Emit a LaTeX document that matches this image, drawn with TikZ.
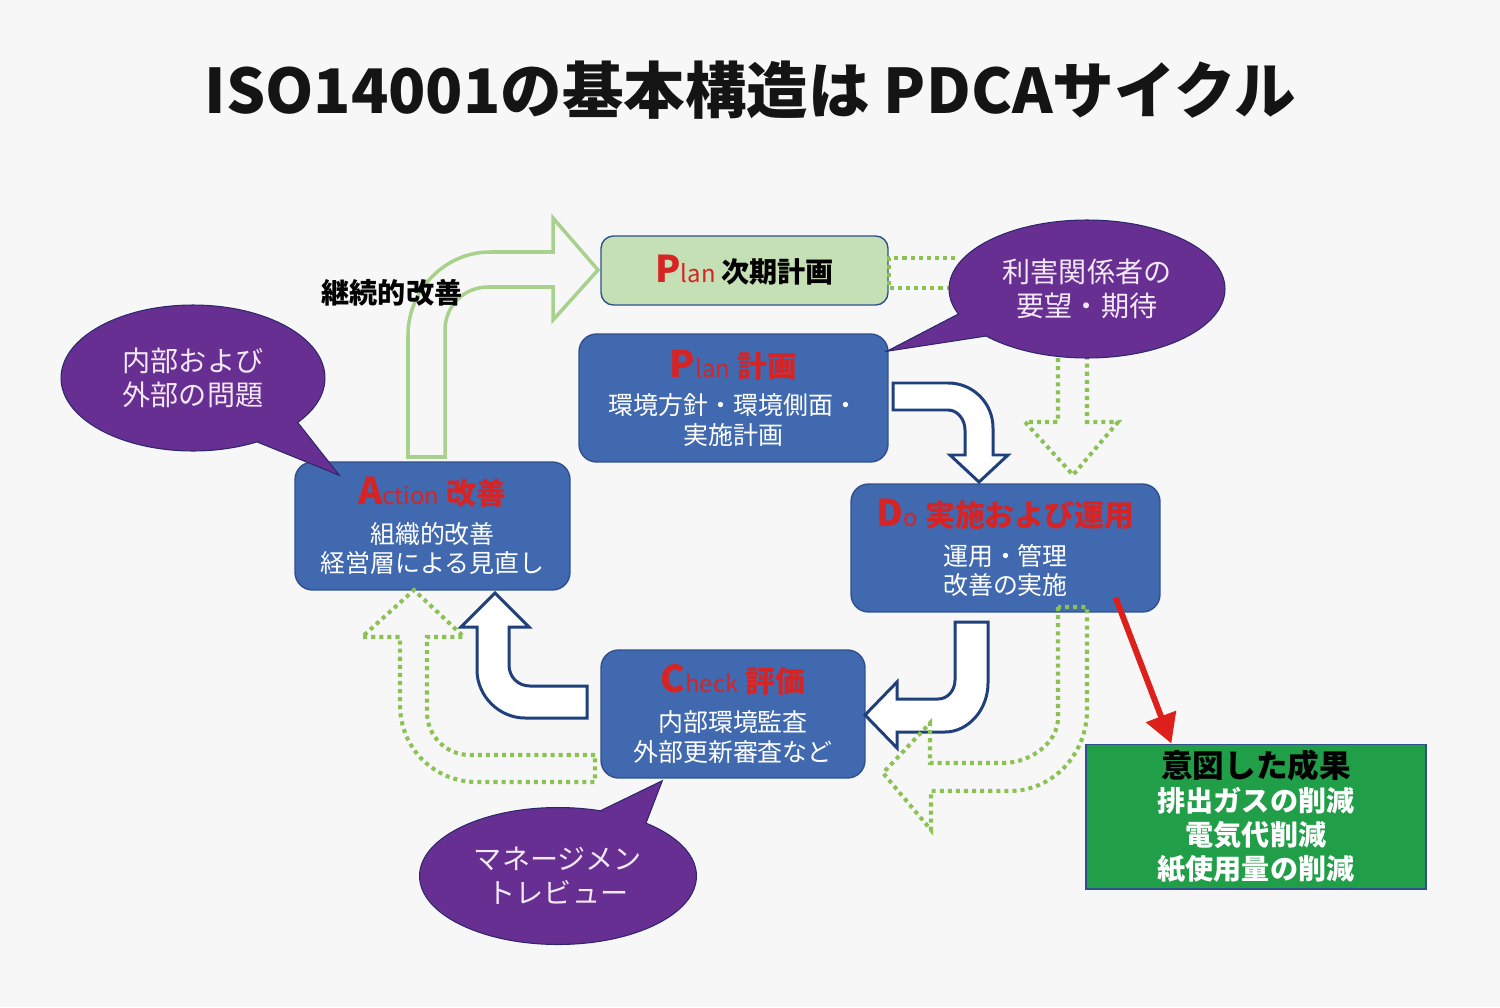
\documentclass[tikz,border=0pt]{standalone}
\usepackage{fontspec}
\setmainfont{Noto Sans CJK JP}
\usetikzlibrary{arrows.meta,positioning,calc,shapes.geometric}

\newcommand{\pdcahead}[3]{{\color{headred}\fontsize{21}{21}\selectfont\bfseries #1\fontsize{13.6}{14}\selectfont\mdseries #2\hspace{0.3em}\fontsize{17}{17}\selectfont\bfseries #3}}

\begin{document}
\begin{tikzpicture}[x=0.02cm,y=-0.02cm,>=Latex,
  pdcabox/.style={draw=boxedge,fill=boxblue,rounded corners=10pt,line width=.8pt,align=center,text=white,inner sep=2pt,minimum height=2.56cm,font=\fontsize{14.2}{17}\selectfont},
  nextbox/.style={draw=boxedge,fill=nextgreen,rounded corners=7pt,line width=.8pt,minimum width=5.74cm,minimum height=1.38cm},
  resultbox/.style={draw=boxedge,fill=resultgreen,line width=.8pt,align=center,text=white,minimum width=6.8cm,minimum height=2.78cm,font=\bfseries\fontsize{16}{19.3}\selectfont},
  bubble/.style={ellipse,draw=bubbleedge,fill=bubblepurple,line width=.6pt,align=center,text=bubbletext,inner sep=0pt,outer sep=0pt,font=\fontsize{16}{19.3}\selectfont},
  tail/.style={fill=bubblepurple,draw=bubbleedge,line width=.6pt},
  uturn/.style={draw=arrownavy,fill=white,line width=1.7pt,line join=miter},
  bigarrow/.style={draw=arrowgreen,line width=2pt},
  dotflow/.style={draw=dotgreen,line width=2.3pt,dash pattern=on 2.3pt off 2.3pt},
  redflow/.style={-{Triangle[length=0.58cm,width=0.62cm]},draw=arrowred,line width=3.4pt}]
\definecolor{bgcol}{RGB}{247,247,247}
\definecolor{boxblue}{RGB}{65,105,175}
\definecolor{boxedge}{RGB}{47,80,140}
\definecolor{nextgreen}{RGB}{197,224,180}
\definecolor{resultgreen}{RGB}{32,158,72}
\definecolor{bubblepurple}{RGB}{103,47,145}
\definecolor{bubbleedge}{RGB}{45,40,110}
\definecolor{bubbletext}{RGB}{242,232,248}
\definecolor{arrownavy}{RGB}{31,64,122}
\definecolor{arrowgreen}{RGB}{169,209,142}
\definecolor{dotgreen}{RGB}{140,194,84}
\definecolor{arrowred}{RGB}{222,32,28}
\definecolor{headred}{RGB}{214,36,36}
\fill[bgcol] (0,0) rectangle (1500,1007);
\useasboundingbox (0,0) rectangle (1500,1007);
\node[font=\bfseries\fontsize{35}{38}\selectfont,text=black!92] (title) at (750,90) {ISO14001の基本構造は PDCAサイクル};
% continual improvement
\draw[bigarrow] (408,457) -- (408,335) .. controls (408,290) and (445,252) .. (490,252) -- (553,252) -- (553,218) -- (598,270) -- (553,320) -- (553,287) -- (488,287) .. controls (464,287) and (445,306) .. (445,330) -- (445,457) -- cycle;
\node[font=\bfseries\fontsize{16}{18}\selectfont] (cont) at (392,293) {継続的改善};
% PDCA boxes
\node[nextbox] (next) at (744.5,270.5) {{\color{headred}\bfseries\fontsize{21}{21}\selectfont P\mdseries\fontsize{13.6}{14}\selectfont lan}\hspace{0.3em}{\bfseries\fontsize{16}{16}\selectfont 次期計画}};
\node[pdcabox,minimum width=6.18cm] (plan) at (733.5,398) {\pdcahead{P}{lan}{計画}\\[4pt]環境方針・環境側面・\\実施計画};
\node[pdcabox,minimum width=5.5cm] (act) at (432.5,526) {\pdcahead{A}{ction}{改善}\\[5pt]組織的改善\\経営層による見直し};
\node[pdcabox,minimum width=6.18cm] (do) at (1005.5,548) {\pdcahead{D}{o}{実施および運用}\\[5pt]運用・管理\\改善の実施};
\node[pdcabox,minimum width=5.28cm] (check) at (733,714) {\pdcahead{C}{heck}{評価}\\[5pt]内部環境監査\\外部更新審査など};
\node[resultbox] (result) at (1256,816.5) {{\color{black}\fontsize{18}{19.3}\selectfont 意図した成果}\\排出ガスの削減\\電気代削減\\紙使用量の削減};
% cycle arrows
\draw[uturn] (893,383) -- (948,383) .. controls (973,383) and (993,403) .. (993,428) -- (993,455) -- (1008,455) -- (979,482) -- (950,455) -- (965,455) -- (965,430) .. controls (965,420) and (958,410) .. (948,410) -- (893,410) -- cycle;
\draw[uturn] (955,622) -- (988,622) -- (988,683) .. controls (988,710) and (968,732) .. (945,732) -- (897,732) -- (897,748) -- (865,715) -- (897,682) -- (897,699) -- (938,699) .. controls (948,699) and (955,690) .. (955,680) -- cycle;
\draw[uturn] (587,686) -- (530,686) .. controls (518,686) and (509,677) .. (509,665) -- (509,627) -- (529,627) -- (495,593) -- (461,627) -- (477,627) -- (477,670) .. controls (477,696) and (499,718) .. (525,718) -- (587,718) -- cycle;
% dotted flows
\draw[dotflow] (955,258) -- (889,258) -- (889,288) -- (955,288);
\draw[dotflow] (1058,350) -- (1058,422) -- (1025,422) -- (1073,475) -- (1118,422) -- (1087,422) -- (1087,350);
\draw[dotflow] (1058,607) -- (1058,718) .. controls (1058,743) and (1030,763) .. (1003,763) -- (930,763) -- (930,723) -- (883,773) -- (931,830) -- (931,791) -- (1010,791) .. controls (1052,791) and (1087,755) .. (1087,710) -- (1087,607) -- cycle;
\draw[dotflow] (595,755) -- (470,755) .. controls (446,755) and (427,736) .. (427,712) -- (427,637) -- (464,637) -- (414,590) -- (362,637) -- (400,637) -- (400,705) .. controls (400,748) and (434,782) .. (477,782) -- (595,782) -- cycle;
% speech bubbles
\node[bubble,minimum width=5.52cm,minimum height=2.76cm] (stake) at (1087,289) {利害関係者の\\要望・期待};
\filldraw[tail] (stake.191) -- ($(plan.north east)+(-2,18)$) -- (stake.205);
\node[bubble,minimum width=5.28cm,minimum height=2.92cm] (issues) at (193,378) {内部および\\外部の問題};
\filldraw[tail] (issues.337) -- ($(act.north west)+(45,14)$) -- (issues.315);
\node[bubble,minimum width=5.54cm,minimum height=2.74cm] (review) at (558,876) {マネージメン\\トレビュー};
\filldraw[tail] (review.57) -- ($(check.south west)+(62,2)$) -- (review.31);
% intended outcome
\draw[redflow] ($(do.south east)+(-45,-15)$) -- ($(result.north west)+(86,0)$);
\end{tikzpicture}
\end{document}
